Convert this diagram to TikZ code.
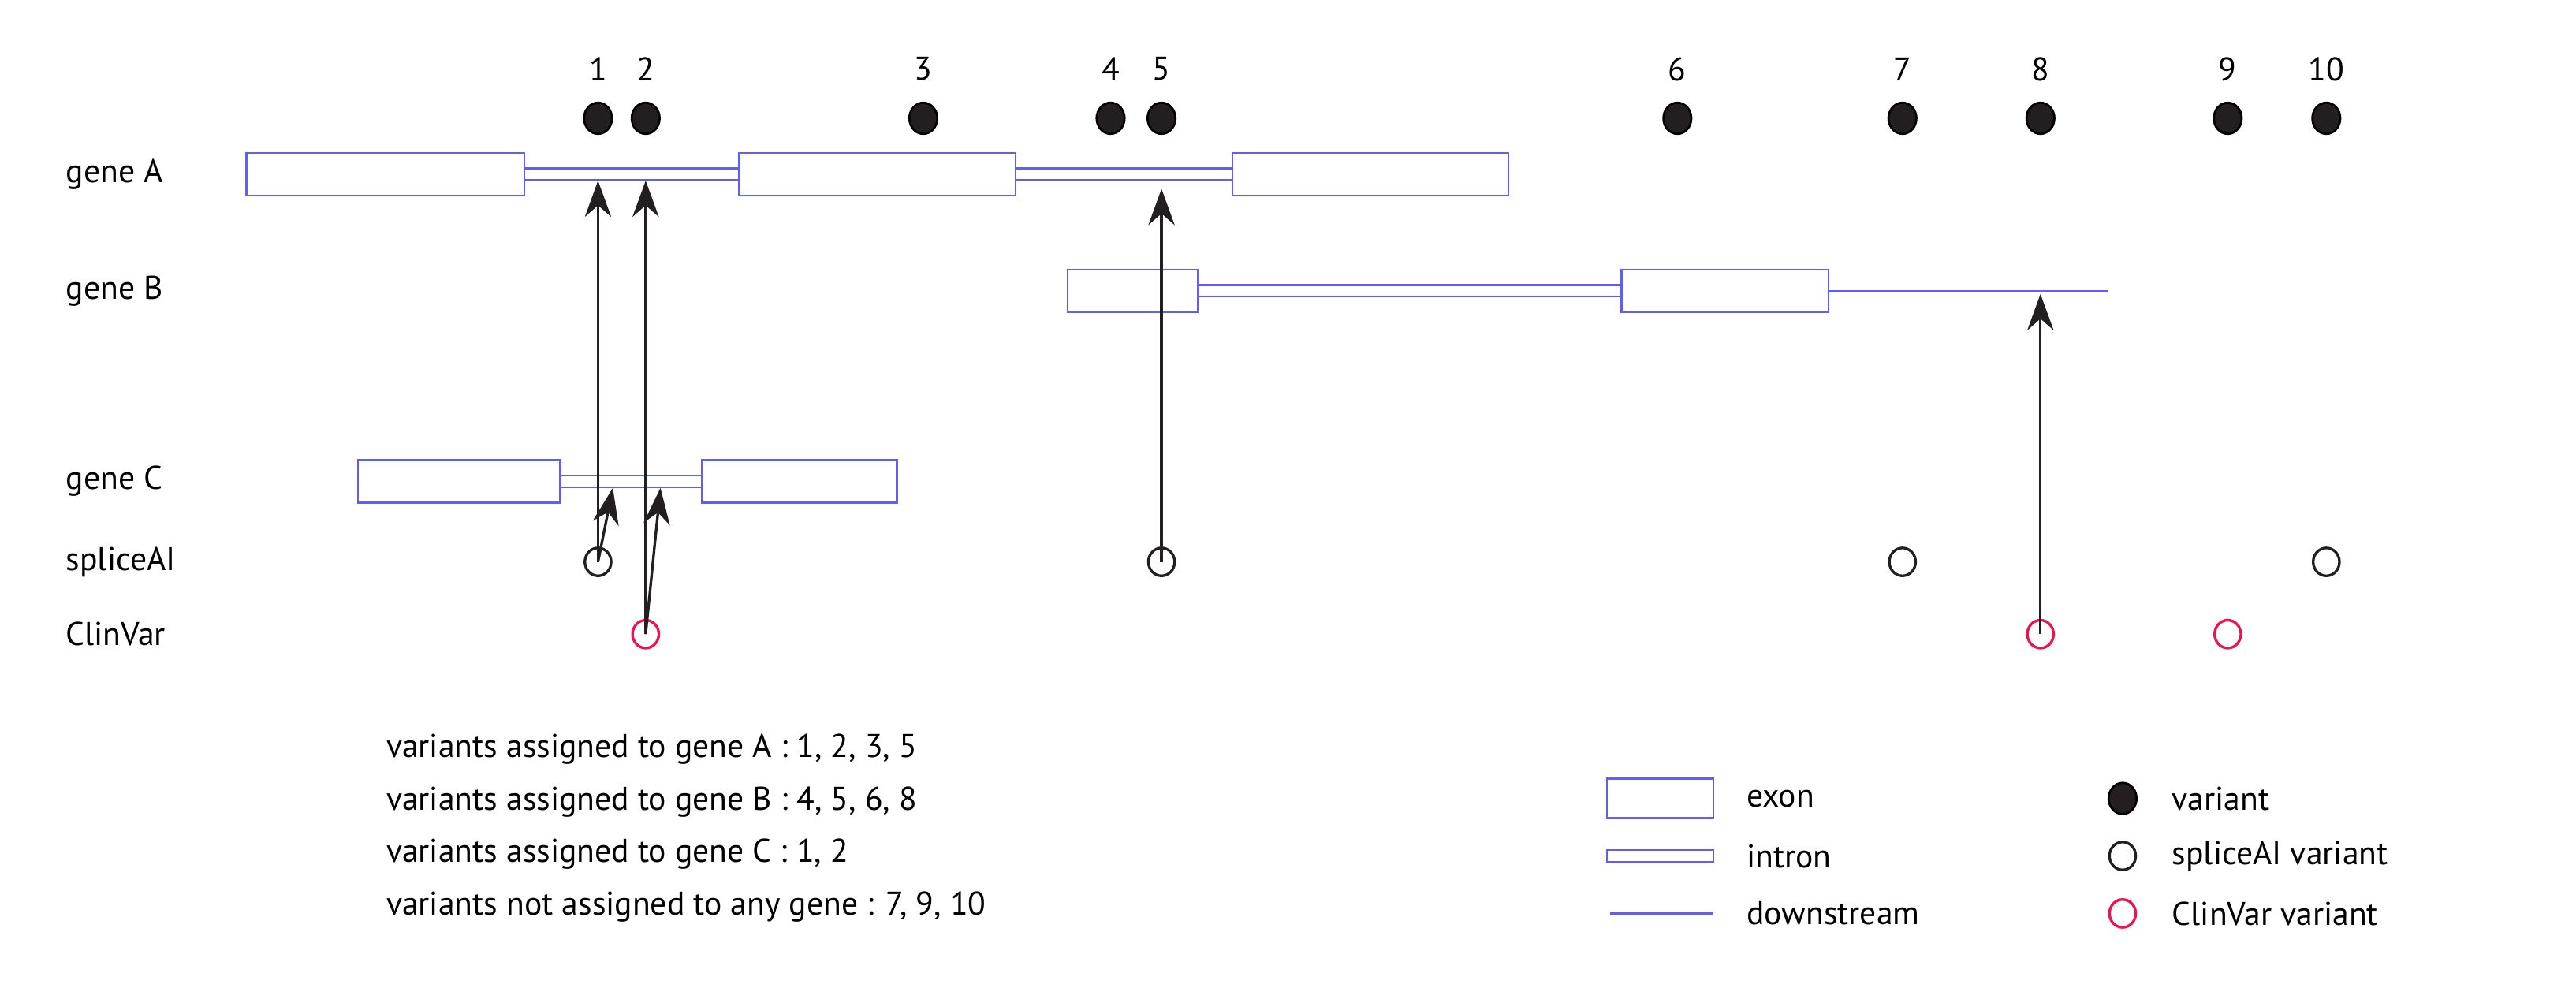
\documentclass[tikz,border=0pt]{standalone}
\usepackage{fontspec}
\setmainfont{PT Sans}
\usetikzlibrary{arrows.meta,shapes.geometric}
\definecolor{gblue}{RGB}{95,95,245}
\definecolor{cred}{RGB}{236,20,80}
\definecolor{vblk}{RGB}{35,31,32}
\begin{document}
\begin{tikzpicture}[x=1pt,y=-1pt,
  font=\fontsize{20}{24}\selectfont,
  exon/.style={draw=gblue,line width=1.1pt,fill=white},
  intr/.style={draw=gblue,line width=1.1pt},
  var/.style={ellipse,draw=black,fill=vblk,line width=1.3pt,minimum width=17pt,minimum height=19pt,inner sep=0pt},
  sai/.style={ellipse,draw=vblk,line width=1.6pt,minimum width=16pt,minimum height=17pt,inner sep=0pt},
  clv/.style={sai,draw=cred},
  arr/.style={line width=1.6pt,vblk,-{Stealth[length=22pt,width=16pt,inset=7pt]}},
  lbl/.style={anchor=west,inner sep=0pt}]
\useasboundingbox (0,0) rectangle (1568,601);
% variants
\foreach \n/\x in {1/364,2/393,3/562,4/676,5/707,6/1021,7/1158,8/1242,9/1356,10/1416}{
  \node[var] (v\n) at (\x,72) {};
  \node (n\n) at (\x,42) {\n};
}
% labels
\node[lbl] (la) at (40,106) {gene A};
\node[lbl] (lb) at (40,177) {gene B};
\node[lbl] (lc) at (40,293) {gene C};
\node[lbl] (ls) at (40,342) {spliceAI};
\node[lbl] (lv) at (40,386) {ClinVar};
% gene A
\draw[intr] (319,102.5) -- (450,102.5) (319,109.5) -- (450,109.5);
\draw[intr] (618,102.5) -- (750,102.5) (618,109.5) -- (750,109.5);
\draw[exon] (150,93) rectangle (319,119);
\draw[exon] (450,93) rectangle (618,119);
\draw[exon] (750,93) rectangle (918,119);
% gene B
\draw[intr] (729,173.5) -- (987,173.5) (729,180.5) -- (987,180.5);
\draw[intr] (1113,177) -- (1283,177);
\draw[exon] (650,164) rectangle (729,190);
\draw[exon] (987,164) rectangle (1113,190);
% gene C
\draw[intr] (341,289.5) -- (427,289.5) (341,296.5) -- (427,296.5);
\draw[exon] (218,280) rectangle (341,306);
\draw[exon] (427,280) rectangle (546,306);
% spliceAI & ClinVar
\foreach \n/\x in {1/364,5/707,7/1158,10/1416}{\node[sai] (s\n) at (\x,342) {};}
\foreach \n/\x in {2/393,8/1242,9/1356}{\node[clv] (c\n) at (\x,386) {};}
\coordinate (tA1) at (364,110);
\coordinate (tA2) at (393,110);
\coordinate (tC1) at (373,297);
\coordinate (tC2) at (402,297);
\coordinate (tA5) at (707,115);
\coordinate (tB8) at (1242,179);
\draw[arr] (s1.center) -- (tA1);
\draw[arr] (s1.center) -- (tC1);
\draw[arr] (c2.center) -- (tA2);
\draw[arr] (c2.center) -- (tC2);
\draw[arr] (s5.center) -- (tA5);
\draw[arr] (c8.center) -- (tB8);
% assignment text
\node[lbl] (t1) at (235,456) {variants assigned to gene A : 1, 2, 3, 5};
\node[lbl] (t2) at (235,488) {variants assigned to gene B : 4, 5, 6, 8};
\node[lbl] (t3) at (235,520) {variants assigned to gene C : 1, 2};
\node[lbl] (t4) at (235,552) {variants not assigned to any gene : 7, 9, 10};
% legend
\draw[exon] (978,474) rectangle (1043,498);
\node[lbl] (le) at (1063,486) {exon};
\draw[exon] (978,517.5) rectangle (1043,524.5);
\node[lbl] (li) at (1063,521) {intron};
\draw[intr] (980,556) -- (1043,556);
\node[lbl] (ld) at (1063,556) {downstream};
\node[var] (kv) at (1292,486) {};
\node[lbl] (kvl) at (1322,486) {variant};
\node[sai] (ks) at (1292,521) {};
\node[lbl] (ksl) at (1322,521) {spliceAI variant};
\node[clv] (kc) at (1292,556) {};
\node[lbl] (kcl) at (1322,556) {ClinVar variant};
\end{tikzpicture}
\end{document}
